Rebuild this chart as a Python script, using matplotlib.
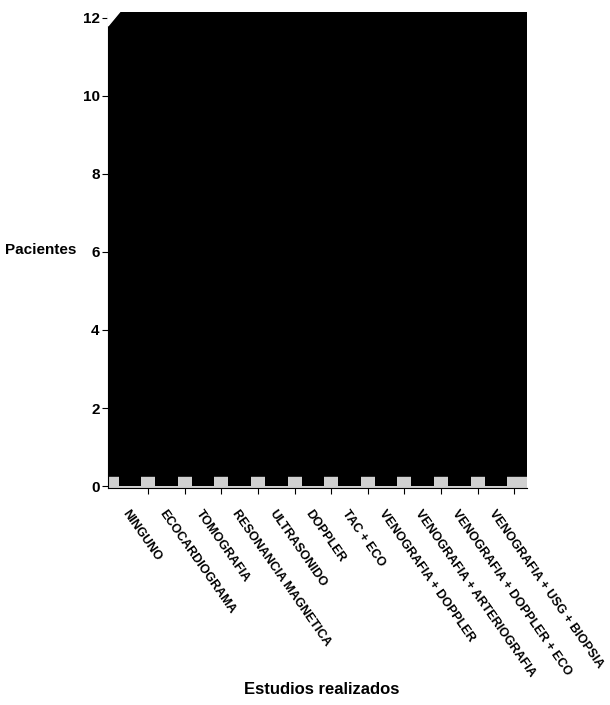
import matplotlib.pyplot as plt
import numpy as np
from matplotlib.patches import Polygon

# categorias del eje X y numero de pacientes (las barras no se distinguen
# del fondo negro del escaneo, valores estimados)
estudios = ['NINGUNO', 'ECOCARDIOGRAMA', 'TOMOGRAFIA', 'RESONANCIA MAGNETICA',
            'ULTRASONIDO', 'DOPPLER', 'TAC + ECO', 'VENOGRAFIA + DOPPLER',
            'VENOGRAFIA + ARTERIOGRAFIA', 'VENOGRAFIA + DOPPLER + ECO',
            'VENOGRAFIA + USG + BIOPSIA']
pacientes = [2, 1, 3, 1, 2, 11, 1, 5, 2, 3, 1]
y_ticks = [0, 2, 4, 6, 8, 10, 12]

plt.rcParams['font.family'] = ['Liberation Sans', 'DejaVu Sans']

fig = plt.figure(figsize=(6.1, 7.05), dpi=100)
ax = fig.add_axes([108 / 610, 217 / 705, 419 / 610, 476 / 705])
ax.set_facecolor('black')

x = np.arange(len(estudios))
# piso claro que se ve entre las barras
ax.axhspan(-0.05, 0.22, color='#d0d0d0', zorder=1)
ax.bar(x, pacientes, width=0.62, color='black', zorder=2)

# esquina superior izquierda recortada (efecto 3D)
ax.add_patch(Polygon([(0, 1.001), (0, 1 - 14 / 476), (12 / 419, 1.001)],
                     closed=True, transform=ax.transAxes, color='white',
                     zorder=5, clip_on=False))

ax.set_xlim(-0.6, 10.85)
ax.set_ylim(-0.05, 12.15)

ax.set_yticks(y_ticks)
ax.set_yticklabels([str(v) for v in y_ticks], fontsize=11, fontweight='bold')
ax.tick_params(axis='y', length=4, width=0.8, pad=2)

# marcas en los limites de categoria, etiquetas en el centro
ax.set_xticks(x + 0.5, minor=True)
ax.set_xticks(x)
ax.set_xticklabels(estudios, rotation=-55, ha='left', va='top',
                   rotation_mode='anchor', fontsize=9, fontweight='bold')
ax.tick_params(axis='x', which='major', length=0, pad=14)
ax.tick_params(axis='x', which='minor', length=4, width=0.8)

for s in ['top', 'right']:
    ax.spines[s].set_visible(False)
ax.spines['left'].set_linewidth(0.8)
ax.spines['bottom'].set_linewidth(0.8)

ax.set_ylabel('Pacientes', rotation=0, ha='right', va='center',
              fontsize=11, fontweight='bold')
ax.yaxis.set_label_coords(-0.075, 0.5)
fig.text(322 / 610, 1 - 690 / 705, 'Estudios realizados', ha='center',
         va='center', fontsize=12, fontweight='bold')

fig.savefig('out.png', dpi=100)
